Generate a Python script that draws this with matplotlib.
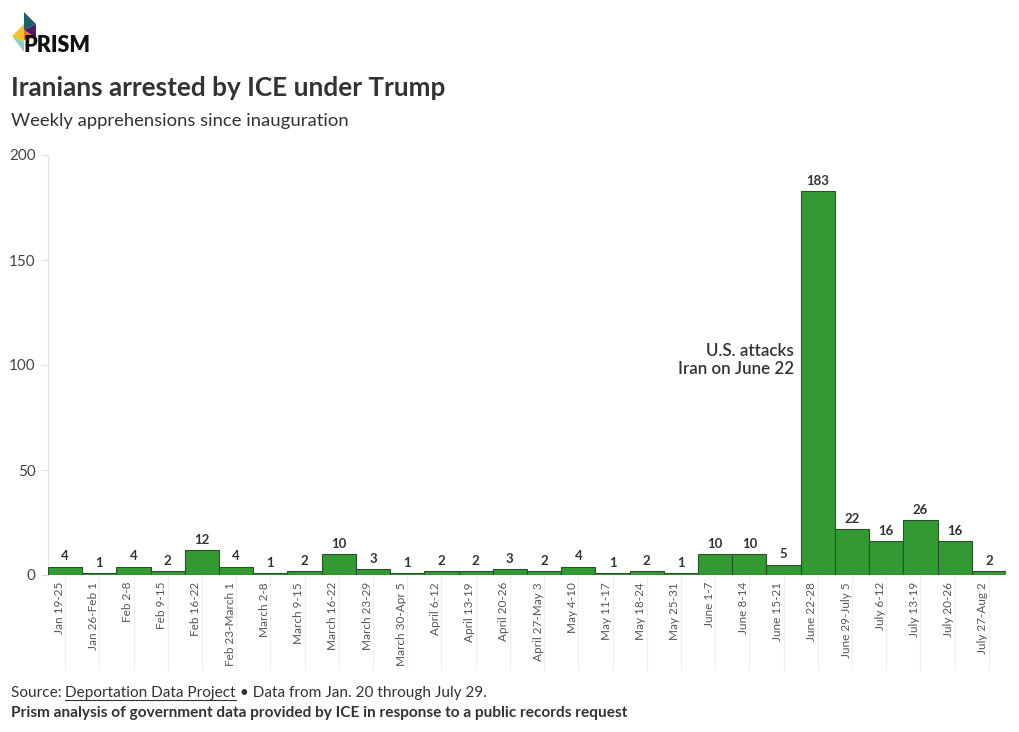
import matplotlib
matplotlib.use("Agg")
import matplotlib.pyplot as plt
from matplotlib.patches import Polygon
import matplotlib.transforms as mtransforms

weeks = ["Jan 19-25", "Jan 26-Feb 1", "Feb 2-8", "Feb 9-15", "Feb 16-22", "Feb 23-March 1",
         "March 2-8", "March 9-15", "March 16-22", "March 23-29", "March 30-Apr 5",
         "April 6-12", "April 13-19", "April 20-26", "April 27-May 3", "May 4-10",
         "May 11-17", "May 18-24", "May 25-31", "June 1-7", "June 8-14", "June 15-21",
         "June 22-28", "June 29-July 5", "July 6-12", "July 13-19", "July 20-26",
         "July 27-Aug 2"]
arrests = [4, 1, 4, 2, 12, 4, 1, 2, 10, 3, 1, 2, 2, 3, 2, 4, 1, 2, 1, 10, 10, 5,
           183, 22, 16, 26, 16, 2]
yticks = [0, 50, 100, 150, 200]

plt.rcParams['font.family'] = ['Lato', 'DejaVu Sans']

W, H = 1020, 732
fig = plt.figure(figsize=(W / 100, H / 100), dpi=100)
fig.patch.set_facecolor("white")

def fx(px):
    return px / W

def fy(py):
    return 1 - py / H

ax = fig.add_axes([fx(48), fy(575), fx(1006) - fx(48), fy(155) - fy(575)])
x = list(range(len(weeks)))
ax.bar(x, arrests, width=1.0, color="#339933", edgecolor="#2b4f2b", linewidth=0.8, zorder=3)
for xi, v in zip(x, arrests):
    ax.annotate(str(v), (xi, v), xytext=(0, 3), textcoords="offset points",
                ha="center", va="bottom", fontsize=9.5, fontweight="bold", color="#333333")

ax.set_xlim(-0.5, len(weeks) - 0.5)
ax.set_ylim(0, 200)
ax.set_yticks(yticks)
ax.set_yticklabels([str(t) for t in yticks], fontsize=11, color="#444444")
ax.tick_params(axis="y", length=5, color="#dddddd", width=0.8, pad=4)
ax.set_xticks(x)
ax.set_xticklabels(weeks, rotation=90, fontsize=8.5, color="#555555", ha="right", va="top")
ax.tick_params(axis="x", length=0, pad=5)
for lbl in ax.get_xticklabels():
    lbl.set_horizontalalignment("center")
    offset = mtransforms.ScaledTranslation(-6 / 100, 0, fig.dpi_scale_trans)
    lbl.set_transform(lbl.get_transform() + offset)
for s in ["top", "right", "bottom"]:
    ax.spines[s].set_visible(False)
ax.spines["left"].set_color("#e6e6e6")
ax.spines["left"].set_linewidth(0.8)

# vertical guide lines below axis
trans = mtransforms.blended_transform_factory(ax.transData, fig.transFigure)
for xi in x:
    ax.plot([xi, xi], [fy(576), fy(670)], transform=trans, color="#eeeeee",
            linewidth=0.8, clip_on=False, zorder=0)

ax.text(22 - 0.69, 102.6, "U.S. attacks\nIran on June 22", ha="right", va="center",
        fontsize=12.2, fontweight="semibold", color="#333333", linespacing=1.15)

# Titles
fig.text(fx(11), fy(88), "Iranians arrested by ICE under Trump", fontsize=18.8,
         fontweight="bold", color="#333333", va="center", ha="left")
fig.text(fx(11), fy(121), "Weekly apprehensions since inauguration", fontsize=13.3,
         color="#333333", va="center", ha="left")

# Footer
FS = 11.1
t1 = fig.text(fx(11), fy(693), "Source: ", fontsize=FS, color="#333333", va="center")
fig.canvas.draw()
r = fig.canvas.get_renderer()
bb = t1.get_window_extent(r)
t2 = fig.text(bb.x1 / W, fy(693), "Deportation Data Project", fontsize=FS,
              color="#333333", va="center")
bb2 = t2.get_window_extent(r)
fig.add_artist(plt.Line2D([bb2.x0 / W, bb2.x1 / W], [bb2.y0 / H - 0.0005, bb2.y0 / H - 0.0005],
                          color="#333333", linewidth=0.8, transform=fig.transFigure))
fig.text(bb2.x1 / W, fy(693), " \u2022 Data from Jan. 20 through July 29.", fontsize=FS,
         color="#333333", va="center")
fig.text(fx(11), fy(713), "Prism analysis of government data provided by ICE in response to a public records request",
         fontsize=FS, fontweight="bold", color="#333333", va="center")

# Logo
def tri(pts, color):
    fig.add_artist(Polygon([(fx(a), fy(b)) for a, b in pts], closed=True, color=color,
                           transform=fig.transFigure, linewidth=0))

tri([(24, 12), (36, 24), (24, 30)], "#1f5f6b")
tri([(36, 24), (36, 38), (24, 30)], "#4b1f5f")
tri([(24, 30), (36, 38), (24, 40)], "#e4731f")
tri([(12, 36), (24, 24), (24, 42)], "#f2c230")
tri([(12, 36), (24, 42), (24, 52)], "#8fcfc0")
fig.text(fx(24), fy(45), "PRISM", fontsize=15.5, fontweight="heavy", color="#111111",
         va="center", ha="left")

fig.savefig("out.png", dpi=100)
